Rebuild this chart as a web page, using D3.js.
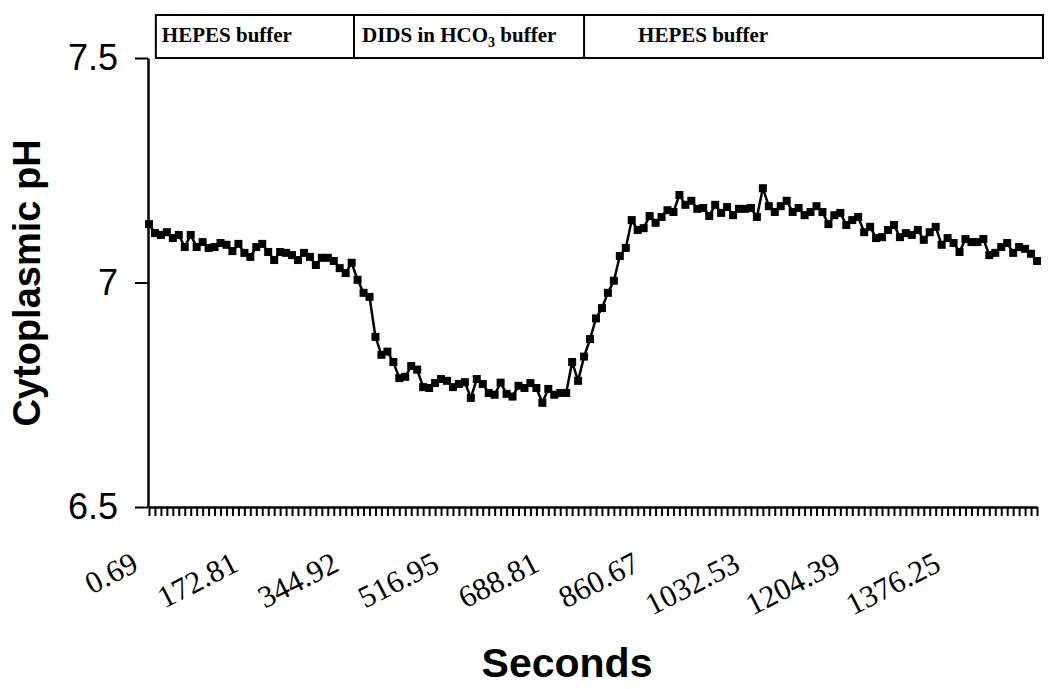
<!DOCTYPE html>
<html>
<head>
<meta charset="utf-8">
<script src="https://cdn.jsdelivr.net/npm/d3@7"></script>
<style>
  body { margin: 0; background: #fff; }
  svg { display: block; }
</style>
</head>
<body>
<svg id="chart"></svg>
<script>
// cytoplasmic pH, one reading per sample (150 samples)
var phValues = [
  7.130, 7.110, 7.106, 7.112, 7.099, 7.106, 7.079, 7.106, 7.079, 7.090,
  7.077, 7.079, 7.088, 7.084, 7.070, 7.086, 7.066, 7.057, 7.079, 7.086,
  7.068, 7.050, 7.068, 7.066, 7.061, 7.050, 7.066, 7.057, 7.039, 7.055,
  7.055, 7.048, 7.032, 7.021, 7.044, 7.006, 6.977, 6.968, 6.879, 6.839,
  6.846, 6.823, 6.787, 6.790, 6.814, 6.806, 6.767, 6.765, 6.776, 6.785,
  6.781, 6.767, 6.774, 6.778, 6.743, 6.785, 6.774, 6.754, 6.750, 6.777,
  6.752, 6.746, 6.770, 6.765, 6.776, 6.765, 6.732, 6.763, 6.750, 6.754,
  6.754, 6.823, 6.781, 6.835, 6.874, 6.920, 6.943, 6.977, 7.004, 7.059,
  7.077, 7.139, 7.117, 7.121, 7.148, 7.133, 7.146, 7.161, 7.157, 7.195,
  7.173, 7.182, 7.164, 7.166, 7.148, 7.173, 7.155, 7.168, 7.150, 7.164,
  7.164, 7.166, 7.146, 7.210, 7.170, 7.157, 7.170, 7.182, 7.157, 7.166,
  7.150, 7.157, 7.170, 7.157, 7.130, 7.150, 7.155, 7.128, 7.139, 7.146,
  7.112, 7.124, 7.099, 7.101, 7.117, 7.128, 7.101, 7.110, 7.106, 7.117,
  7.095, 7.112, 7.124, 7.084, 7.099, 7.088, 7.068, 7.097, 7.090, 7.090,
  7.097, 7.061, 7.066, 7.079, 7.088, 7.066, 7.079, 7.075, 7.064, 7.048
]

// time labels shown every 17th sample
var tickLabels = ['0.69', '172.81', '344.92', '516.95', '688.81', '860.67', '1032.53', '1204.39', '1376.25']
var labelEvery = 17

var yTicks = [6.5, 7, 7.5]

// buffer periods on top, bounds in sample units
var bufferNames = ['HEPES buffer', 'DIDS in HCO|3| buffer', 'HEPES buffer']
var bufferBounds = [1.15, 34.4, 73, 150]
var bufferPad = [6, 8, 54]

var width = 1050, height = 689
var svg = d3.select('#chart')
    .attr('width', width)
    .attr('height', height)

var xScale = d3.scaleLinear()
    .domain([0, phValues.length - 1])
    .range([149, 1037])

var yScale = d3.scaleLinear()
    .domain([6.5, 7.5])
    .range([507, 58])

// header boxes
var header = svg.append('g')
header.append('rect')
    .attr('x', xScale(bufferBounds[0]))
    .attr('y', 15)
    .attr('width', xScale(bufferBounds[3]) - xScale(bufferBounds[0]))
    .attr('height', 43)
    .attr('fill', 'none')
    .attr('stroke', '#000')
    .attr('stroke-width', 2)

bufferNames.forEach(function (name, i) {
    if (i > 0) {
        header.append('line')
            .attr('x1', xScale(bufferBounds[i]))
            .attr('x2', xScale(bufferBounds[i]))
            .attr('y1', 15)
            .attr('y2', 58)
            .attr('stroke', '#000')
            .attr('stroke-width', 2)
    }
    var t = header.append('text')
        .attr('x', xScale(bufferBounds[i]) + bufferPad[i])
        .attr('y', 42)
        .attr('font-family', '"Liberation Serif", "Times New Roman", serif')
        .attr('font-weight', 'bold')
        .attr('font-size', 21)
    var parts = name.split('|')
    t.append('tspan').text(parts[0])
    if (parts.length > 1) {
        t.append('tspan').attr('font-size', 14).attr('dy', 5).text(parts[1])
        t.append('tspan').attr('dy', -5).text(parts[2])
    }
})

// x axis: one tick per sample
var xAxis = d3.axisBottom(xScale)
    .tickValues(d3.range(phValues.length))
    .tickSize(9)
    .tickSizeOuter(0)
    .tickFormat('')

var gx = svg.append('g')
    .attr('transform', 'translate(0,507)')
    .call(xAxis)
gx.select('.domain').attr('stroke-width', 2.5)
gx.selectAll('.tick line').attr('stroke-width', 2)

svg.selectAll('.xlabel')
    .data(tickLabels)
    .enter()
    .append('text')
    .attr('class', 'xlabel')
    .attr('text-anchor', 'end')
    .attr('font-family', '"Liberation Serif", "Times New Roman", serif')
    .attr('font-size', 31)
    .attr('transform', function (d, i) {
        return 'translate(' + (xScale(i * labelEvery) - 9 - i) + ',570) rotate(-27)'
    })
    .text(function (d) { return d })

// y axis
var yAxis = d3.axisLeft(yScale)
    .tickValues(yTicks)
    .tickSize(13)
    .tickSizeOuter(0)
    .tickPadding(17)
    .tickFormat(d3.format(''))

var gy = svg.append('g')
    .attr('transform', 'translate(148,0)')
    .call(yAxis)
gy.select('.domain').attr('stroke-width', 2.5)
gy.selectAll('.tick line').attr('stroke-width', 2)
gy.selectAll('text')
    .attr('font-family', '"Liberation Sans", Arial, sans-serif')
    .attr('font-size', 36)
    .attr('fill', '#000')

// series
var line = d3.line()
    .x(function (d, i) { return xScale(i) })
    .y(function (d) { return yScale(d) })

svg.append('path')
    .datum(phValues)
    .attr('d', line)
    .attr('fill', 'none')
    .attr('stroke', '#000')
    .attr('stroke-width', 2.5)

svg.selectAll('.marker')
    .data(phValues)
    .enter()
    .append('rect')
    .attr('class', 'marker')
    .attr('x', function (d, i) { return xScale(i) - 4 })
    .attr('y', function (d) { return yScale(d) - 4 })
    .attr('width', 8)
    .attr('height', 8)
    .attr('fill', '#000')

// axis titles
svg.append('text')
    .attr('transform', 'translate(40,283) rotate(-90)')
    .attr('text-anchor', 'middle')
    .attr('font-family', '"Liberation Sans", Arial, sans-serif')
    .attr('font-weight', 'bold')
    .attr('font-size', 38)
    .text('Cytoplasmic pH')

svg.append('text')
    .attr('x', 567)
    .attr('y', 677)
    .attr('text-anchor', 'middle')
    .attr('font-family', '"Liberation Sans", Arial, sans-serif')
    .attr('font-weight', 'bold')
    .attr('font-size', 41)
    .text('Seconds')
</script>
</body>
</html>
